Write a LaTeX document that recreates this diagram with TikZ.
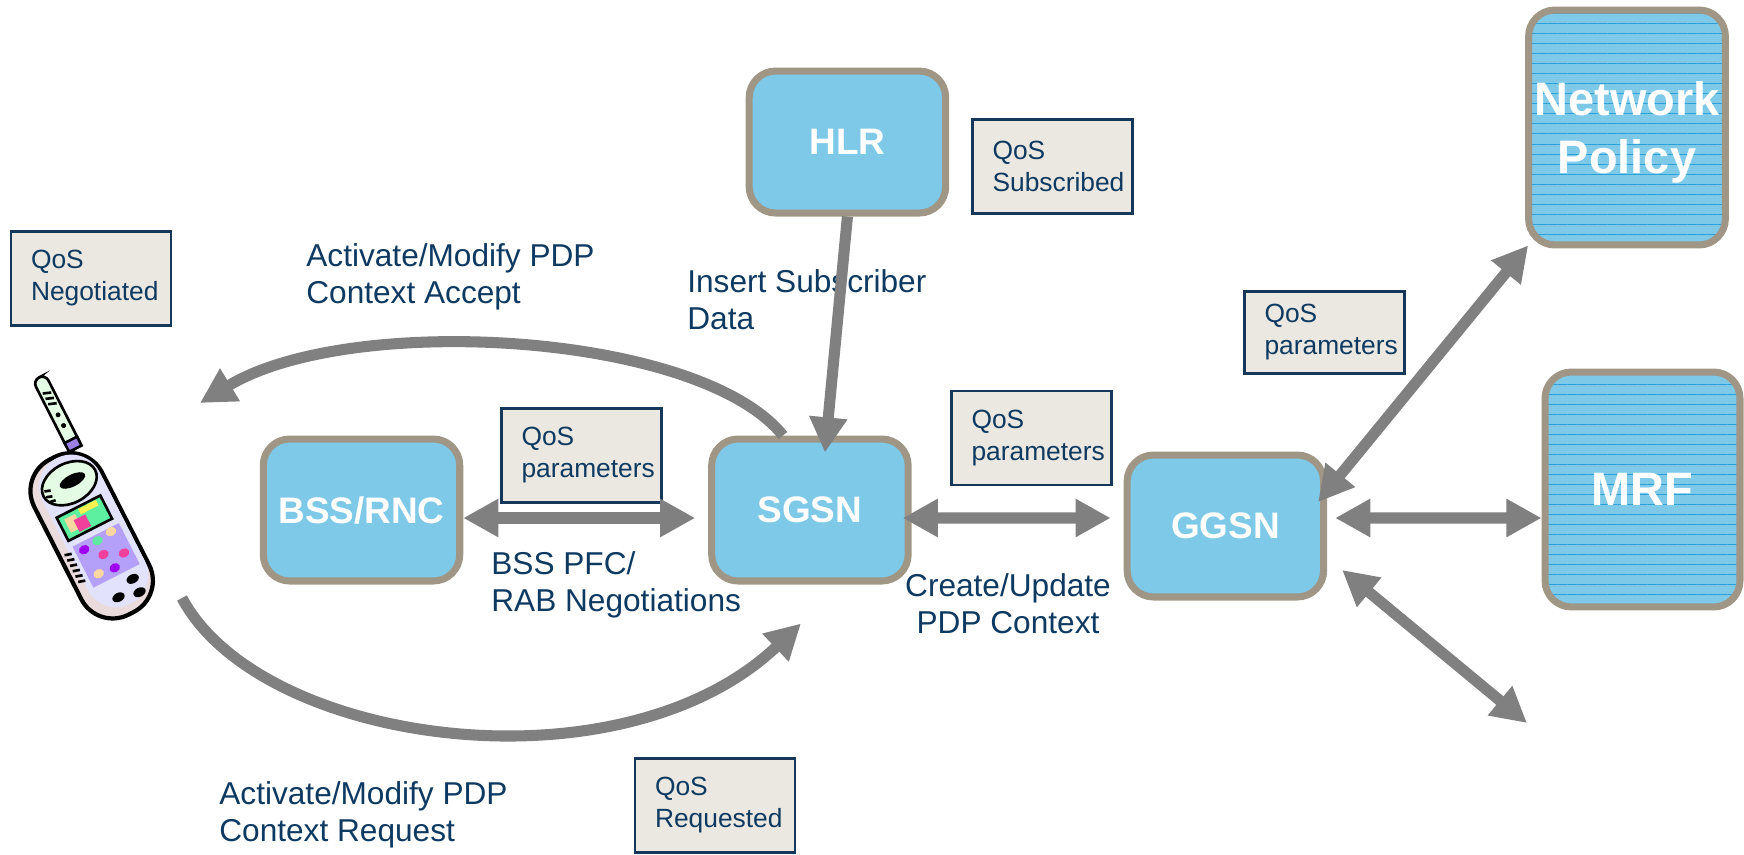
\documentclass[tikz,border=0pt]{standalone}
\usepackage{fontspec}
\setmainfont{Liberation Sans}
\usepackage{xcolor}
\usetikzlibrary{arrows.meta, positioning, patterns.meta}

\definecolor{nodeblue}{HTML}{7EC8E8}
\definecolor{nodeedge}{HTML}{A09686}
\definecolor{stripeblue}{HTML}{2A9FD8}
\definecolor{qosfill}{HTML}{EBE8E1}
\definecolor{qosedge}{HTML}{14375A}
\definecolor{msgnavy}{HTML}{0E3A62}
\definecolor{flowgray}{HTML}{808080}
% handset colours
\definecolor{antgreen}{HTML}{E4FCE4}
\definecolor{facelav}{HTML}{E2E2FC}
\definecolor{sidepink}{HTML}{EADCDC}
\definecolor{collar}{HTML}{9C80E8}
\definecolor{scrgreen}{HTML}{5CF0A0}
\definecolor{keylilac}{HTML}{B4A0F8}
\definecolor{dotviolet}{HTML}{A000F0}
\definecolor{dotgreen}{HTML}{60E8A0}
\definecolor{dottan}{HTML}{F8D8A0}
\definecolor{dotpink}{HTML}{F0409C}
\definecolor{dotyellow}{HTML}{F8F050}

\begin{document}
\begin{tikzpicture}[
    x=0.02cm, y=-0.02cm,
    % network elements: blue rounded boxes with a taupe rim
    netbox/.style={rectangle, draw=nodeedge, line width=4pt, fill=nodeblue, rounded corners=15pt, minimum width=3.93cm, minimum height=2.84cm, text=white, font=\fontsize{21pt}{25pt}\selectfont\bfseries, align=center},
    % external entities get horizontal stripes on top of the blue
    bigbox/.style={netbox, minimum width=3.9cm, minimum height=4.7cm, text depth=0pt, font=\fontsize{26.7pt}{33pt}\selectfont\bfseries, preaction={fill=nodeblue}, pattern={Lines[distance=5.7pt, line width=0.5pt]}, pattern color=stripeblue},
    qosbox/.style={rectangle, draw=qosedge, line width=1.6pt, fill=qosfill, text width=2.4cm, inner xsep=0.4cm, minimum height=1.88cm, align=left, text=msgnavy, font={\fontsize{15pt}{18.2pt}\selectfont\hyphenpenalty=10000}},
    % message labels are anchored on the baseline of their last line
    msgtext/.style={text=msgnavy, font=\fontsize{18pt}{20.5pt}\selectfont, align=left, inner sep=0pt, anchor=base west},
    flow/.style={draw=flowgray, line width=6.3pt, -{Triangle[length=20pt, width=20.5pt]}},
    dbl/.style={flow, {Triangle[length=20pt, width=20.5pt]}-{Triangle[length=20pt, width=20.5pt]}}
]
\useasboundingbox (0,0) rectangle (1744,855);

% =========================================================
% NETWORK ELEMENTS
% =========================================================
\node[netbox] (bss) at (361.5,510) {BSS/RNC};
\node[netbox, right=4.9cm of bss] (sgsn) {SGSN};
\node[netbox, right=4.24cm of sgsn, yshift=-0.32cm] (ggsn) {GGSN};
\node[netbox, above=4.38cm of sgsn, xshift=0.75cm] (hlr) {HLR};
\node[bigbox] (np) at (1627,127.5) {Network\\Policy};
\node[bigbox] (mrf) at (1642.5,489.5) {MRF};

% =========================================================
% QoS TAGS
% =========================================================
\node[qosbox] (qneg) at (91,278.5) {QoS\\Negotiated};
\node[qosbox] (qsub) at (1052.5,166.5) {QoS\\Subscribed};
\node[qosbox] (qbss) at (581.5,455.5) {QoS\\parameters};
\node[qosbox] (qsg) at (1031.5,438) {QoS\\parameters};
\node[qosbox, minimum height=1.64cm] (qgg) at (1324.5,332.5) {QoS\\parameters};
\node[qosbox] (qreq) at (715,805.5) {QoS\\Requested};

% =========================================================
% MESSAGE LABELS
% =========================================================
\node[msgtext] (acc) at (306,303) {Activate/Modify PDP\\Context Accept};
\node[msgtext] (isd) at (687,329) {Insert Subscriber\\Data};
\node[msgtext] (pfc) at (491,611) {BSS PFC/\\RAB Negotiations};
\node[msgtext, align=center, anchor=base] (cup) at (1008,633) {Create/Update\\PDP Context};
\node[msgtext] (req) at (219,841) {Activate/Modify PDP\\Context Request};

% =========================================================
% HANDSET
% =========================================================
\begin{scope}[shift={(93,534)}, rotate=27, line width=1.5pt]
    % antenna
    \draw[fill=antgreen, rounded corners=4pt] (16,-164) rectangle (30,-84);
    \draw[fill=collar] (16,-94) rectangle (30,-84);
    \fill (23,-122) circle (2.5) (23,-110) circle (2.5);
    \draw (19,-148) -- (27,-145) (19,-142) -- (27,-139) (19,-136) -- (27,-133);
    % body and face
    \draw[fill=sidepink, line width=2.4pt, rounded corners=20pt] (-40,-86) rectangle (36,88);
    \fill[facelav, rounded corners=18pt] (-30,-84) rectangle (34,79);
    % earpiece
    \draw[fill=antgreen] (2,-56) ellipse [x radius=29, y radius=20];
    \fill (6,-57) ellipse [x radius=14, y radius=6];
    \draw (-24,-60) -- (-18,-58) (-25,-54) -- (-19,-52) (-24,-48) -- (-18,-47);
    % screen
    \draw[fill=scrgreen] (-25,-31) rectangle (24,-5);
    \fill[dottan] (-19,-26) rectangle (-7,-11);
    \fill[dotpink] (-11,-21) rectangle (2,-8);
    \fill[dotyellow] (-2,-29) rectangle (18,-23);
    % keypad
    \fill[keylilac] (-24,2) rectangle (28,48);
    \fill[dotviolet] (-15,10) ellipse [x radius=5.5, y radius=4.5];
    \fill[dotgreen] (1,8) ellipse [x radius=5.5, y radius=4.5];
    \fill[dottan] (17,6) ellipse [x radius=5.5, y radius=4.5];
    \fill[dotpink] (0,23) ellipse [x radius=5.5, y radius=4.5];
    \fill[dottan] (-13,38) ellipse [x radius=5.5, y radius=4.5];
    \fill[dotviolet] (4,40) ellipse [x radius=5.5, y radius=4.5];
    \fill[dotpink] (19,31) ellipse [x radius=5.5, y radius=4.5];
    % side grille
    \foreach \gy in {6,12,...,36}
        \draw (-35,\gy) -- (-28,\gy+2);
    % lower buttons
    \fill (15,58) ellipse [x radius=6.5, y radius=4.5];
    \fill (-6,68) ellipse [x radius=6.5, y radius=4.5];
    \fill (15,73) ellipse [x radius=6.5, y radius=4.5];
\end{scope}

\coordinate (ueIn) at (200,403);
\coordinate (ueOut) at (182,598);
\coordinate (ext) at (1527,723);

% =========================================================
% CONNECTORS
% =========================================================
\draw[flow] (hlr.south) -- ([shift={(0.3cm,-0.34cm)}]sgsn.north);
\draw[dbl] ([yshift=-0.16cm]bss.east) -- ([yshift=-0.16cm, xshift=-0.26cm]sgsn.west);
\draw[dbl] ([yshift=-0.16cm, xshift=-0.18cm]sgsn.east) -- ([yshift=0.16cm, xshift=-0.26cm]ggsn.west);
\draw[dbl] ([yshift=0.16cm, xshift=0.16cm]ggsn.east) -- ([yshift=-0.57cm]mrf.west);
\draw[dbl] ([shift={(-0.18cm,0.48cm)}]ggsn.east) -- (np.south west);
\draw[dbl] ([shift={(0.3cm,-0.88cm)}]ggsn.east) -- (ext);

% PDP context accept back to the handset, request from it
\draw[flow] ([xshift=-0.54cm]sgsn.north) .. controls (700,332) and (350,312) .. (ueIn);
\draw[flow] (ueOut) .. controls (260,745) and (620,795) .. ([shift={(-0.18cm,-0.78cm)}]sgsn.south);

\end{tikzpicture}
\end{document}
